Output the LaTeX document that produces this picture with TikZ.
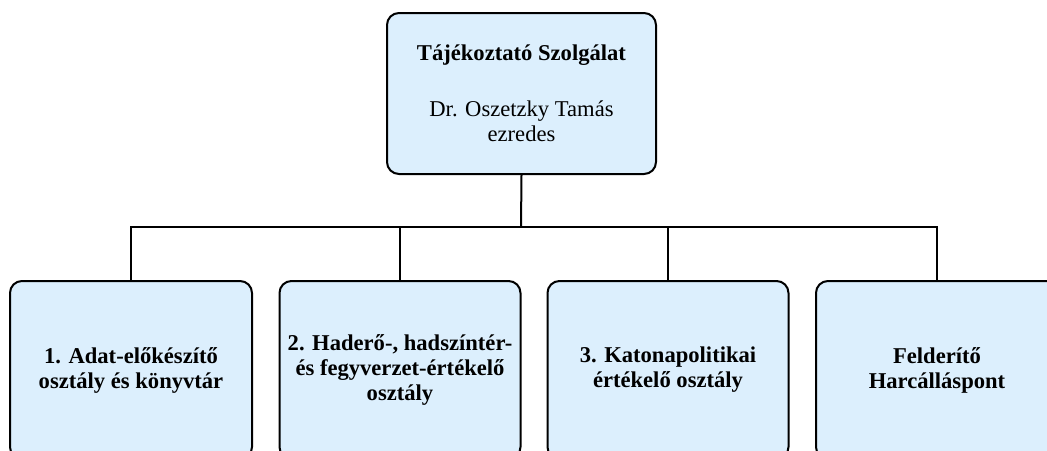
\documentclass[tikz,border=0pt]{standalone}
\usepackage{fontspec}
\setmainfont{Liberation Serif}
\definecolor{boxfill}{RGB}{220,239,253}
\begin{document}
\begin{tikzpicture}[x=1pt,y=-1pt,
  orgbox/.style={draw=black, line width=2pt, fill=boxfill, rounded corners=12pt,
    align=center, inner sep=0pt, font=\fontsize{22.6}{25}\selectfont},
  unitbox/.style={orgbox, minimum height=178pt, font=\fontsize{22.6}{25}\selectfont\bfseries},
  conn/.style={draw=black, line width=2pt}]
\useasboundingbox (0,0) rectangle (1047,450);
\clip (0,0) rectangle (1047,450);
\node[orgbox, minimum width=269pt, minimum height=161pt] (top) at (521.5,93.5)
  {\textbf{Tájékoztató Szolgálat}\\[31pt]Dr. Oszetzky Tamás\\ezredes};
\node[unitbox, minimum width=242pt] (b1) at (131,370)
  {1. Adat-előkészítő\\osztály és könyvtár};
\node[unitbox, minimum width=241pt] (b2) at (400,370)
  {2. Haderő-, hadszíntér-\\és fegyverzet-értékelő\\osztály};
\node[unitbox, minimum width=241pt] (b3) at (668,370)
  {3. Katonapolitikai\\értékelő osztály};
\node[unitbox, minimum width=242pt] (b4) at (937,370)
  {Felderítő\\Harcálláspont};
\coordinate (bus) at (521,227);
\draw[conn] (top.south) -- (bus);
\draw[conn] (b1.north) -- (b1.north |- bus) -- (b4.north |- bus) -- (b4.north);
\draw[conn] (b2.north) -- (b2.north |- bus);
\draw[conn] (b3.north) -- (b3.north |- bus);
\end{tikzpicture}
\end{document}
